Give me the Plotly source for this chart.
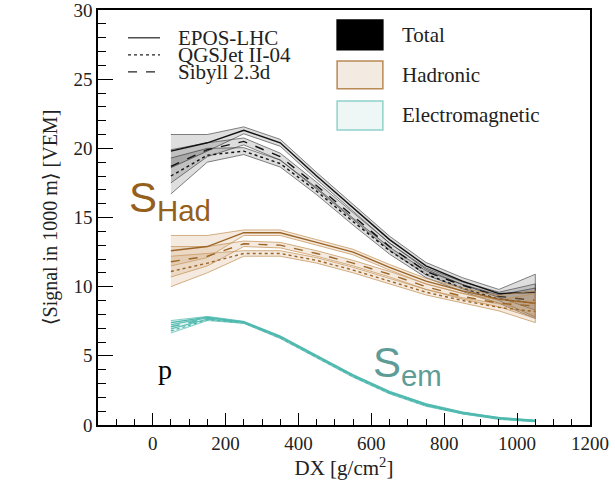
import plotly.graph_objects as go

# ---------------- data ----------------
dx = [50, 150, 250, 350, 450, 550, 650, 750, 850, 950, 1050]

tot_epos = [19.8, 20.4, 21.3, 20.4, 18.0, 15.7, 13.4, 11.5, 10.4, 9.5, 9.6]
tot_sib = [18.7, 19.9, 20.5, 19.4, 17.3, 15.1, 12.9, 11.1, 10.1, 9.3, 9.0]
tot_qgs = [18.0, 19.5, 19.8, 18.9, 16.9, 14.7, 12.6, 10.9, 9.9, 9.1, 8.8]
tot_err_epos = [1.2, 0.6, 0.25, 0.25, 0.25, 0.25, 0.25, 0.25, 0.25, 0.3, 1.3]
tot_err_sib = [1.2, 0.5, 0.25, 0.25, 0.25, 0.25, 0.25, 0.25, 0.25, 0.3, 1.2]
tot_err_qgs = [1.3, 0.5, 0.25, 0.25, 0.25, 0.25, 0.25, 0.25, 0.25, 0.3, 1.1]

had_epos = [12.6, 12.9, 13.9, 13.9, 13.2, 12.5, 11.4, 10.4, 9.7, 9.1, 8.8]
had_sib = [11.8, 12.2, 13.1, 13.0, 12.4, 11.7, 10.9, 10.0, 9.3, 8.8, 8.6]
had_qgs = [11.1, 11.7, 12.4, 12.4, 11.9, 11.2, 10.4, 9.6, 9.0, 8.5, 8.2]
had_err_epos = [1.1, 0.8, 0.2, 0.2, 0.2, 0.2, 0.2, 0.2, 0.2, 0.25, 0.9]
had_err_sib = [1.1, 0.7, 0.2, 0.2, 0.2, 0.2, 0.2, 0.2, 0.2, 0.25, 0.9]
had_err_qgs = [1.1, 0.7, 0.2, 0.2, 0.2, 0.2, 0.2, 0.2, 0.2, 0.25, 0.8]

em_epos = [7.4, 7.8, 7.45, 6.4, 5.0, 3.6, 2.4, 1.5, 0.9, 0.5, 0.3]
em_sib = [7.1, 7.7, 7.4, 6.35, 4.95, 3.55, 2.35, 1.45, 0.85, 0.5, 0.3]
em_qgs = [6.8, 7.6, 7.4, 6.3, 4.9, 3.5, 2.3, 1.4, 0.85, 0.45, 0.28]
em_err = [0.15, 0.05, 0.05, 0.05, 0.05, 0.05, 0.05, 0.05, 0.05, 0.05, 0.05]

models = ["EPOS-LHC", "QGSJet II-04", "Sibyll 2.3d"]
dashes = {"EPOS-LHC": "solid", "QGSJet II-04": "dot", "Sibyll 2.3d": "dash"}

components = [
    ("Total", {"EPOS-LHC": (tot_epos, tot_err_epos), "QGSJet II-04": (tot_qgs, tot_err_qgs),
               "Sibyll 2.3d": (tot_sib, tot_err_sib)},
     "#111111", "rgba(0,0,0,0.13)", "rgba(60,60,60,0.8)"),
    ("Hadronic", {"EPOS-LHC": (had_epos, had_err_epos), "QGSJet II-04": (had_qgs, had_err_qgs),
                  "Sibyll 2.3d": (had_sib, had_err_sib)},
     "#9c6425", "rgba(205,160,110,0.22)", "rgba(195,145,85,0.9)"),
    ("Electromagnetic", {"EPOS-LHC": (em_epos, em_err), "QGSJet II-04": (em_qgs, em_err),
                         "Sibyll 2.3d": (em_sib, em_err)},
     "#4fb9ae", "rgba(95,195,185,0.18)", "rgba(80,185,175,0.9)"),
]

SERIF = "Liberation Serif, DejaVu Serif, serif"

fig = go.Figure()
for name, data, lc, fc, ec in components:
    for m in models:
        y, e = data[m]
        up = [a + b for a, b in zip(y, e)]
        lo = [a - b for a, b in zip(y, e)]
        fig.add_trace(go.Scatter(x=dx + dx[::-1], y=up + lo[::-1], fill="toself",
                                 fillcolor=fc, line=dict(color=ec, width=0.8),
                                 mode="lines", hoverinfo="skip", showlegend=False))
    for m in models:
        y, e = data[m]
        fig.add_trace(go.Scatter(x=dx, y=y, mode="lines", showlegend=False,
                                 line=dict(color=lc, width=1.4, dash=dashes[m]),
                                 name=f"{name} {m}"))

# ---------------- legends (drawn manually) ----------------
ly = [0.933, 0.892, 0.851]
for m, yy in zip(models, ly):
    fig.add_shape(type="line", xref="paper", yref="paper", x0=0.061, x1=0.126, y0=yy, y1=yy,
                  line=dict(color="#222", width=1.2, dash=dashes[m]))
    fig.add_annotation(xref="paper", yref="paper", x=0.161, y=yy, text=m, showarrow=False,
                       xanchor="left", yanchor="middle", borderpad=0,
                       font=dict(family=SERIF, size=21, color="#222"))

boxes = [("Total", "black", "black", 0.976, 0.904),
         ("Hadronic", "#f3ebe2", "#b98a55", 0.877, 0.810),
         ("Electromagnetic", "#eef7f6", "#8fd2ca", 0.781, 0.711)]
for t, fc, lc, y1, y0 in boxes:
    fig.add_shape(type="rect", xref="paper", yref="paper", x0=0.486, x1=0.579, y0=y0, y1=y1,
                  fillcolor=fc, line=dict(color=lc, width=1.5))
    fig.add_annotation(xref="paper", yref="paper", x=0.614, y=(y0 + y1) / 2, text=t, showarrow=False,
                       xanchor="left", yanchor="middle", font=dict(family=SERIF, size=21, color="#222"))

# ---------------- text labels ----------------
fig.add_annotation(x=-70, y=16.2, text="S<sub>Had</sub>", showarrow=False, xanchor="left",
                   font=dict(family="Liberation Sans, Arial, sans-serif", size=42, color="#94601c"))
fig.add_annotation(x=600, y=4.3, text="S<sub>em</sub>", showarrow=False, xanchor="left",
                   font=dict(family="Liberation Sans, Arial, sans-serif", size=42, color="#5e9c97"))
fig.add_annotation(x=35, y=4.0, text="p", showarrow=False,
                   font=dict(family=SERIF, size=28, color="black"))

axis_common = dict(showline=True, linecolor="black", linewidth=1.5, mirror=True,
                   ticks="inside", tickcolor="black", showgrid=False, zeroline=False,
                   automargin=False, ticklabeloverflow="allow",
                   tickfont=dict(family=SERIF, size=19, color="#222"))

fig.update_xaxes(range=[-150, 1200], tickmode="array", tickvals=[0, 200, 400, 600, 800, 1000, 1200],
                 ticklen=12, tickwidth=1.2,
                 minor=dict(ticks="inside", dtick=50, tick0=0, ticklen=6, tickcolor="black"),
                 title=dict(text="DX [g/cm<sup>2</sup>]", font=dict(family=SERIF, size=21, color="#222"),
                            standoff=6),
                 **axis_common)
fig.update_yaxes(range=[0, 30], tickmode="array", tickvals=[0, 5, 10, 15, 20, 25, 30],
                 ticklen=15, tickwidth=1.2,
                 minor=dict(ticks="inside", dtick=1, tick0=0, ticklen=8, tickcolor="black"),
                 title=dict(text="⟨Signal in 1000 m⟩ [VEM]", font=dict(family=SERIF, size=20, color="#222"),
                            standoff=10),
                 **axis_common)

fig.update_layout(width=615, height=487, margin=dict(l=98, r=25, t=10, b=62),
                  plot_bgcolor="white", paper_bgcolor="white", showlegend=False)

fig.write_html("out.html")
